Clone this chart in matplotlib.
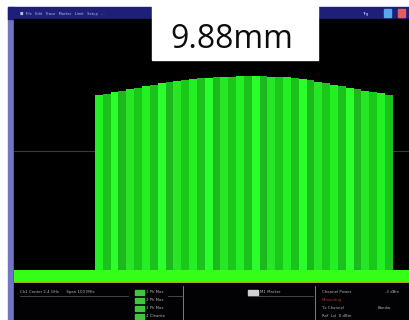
import matplotlib.pyplot as plt
import matplotlib.patches as mpatches
import numpy as np

# Spectrum data (dBm) over a 0-100 MHz display span
span_start, span_stop = 0.0, 100.0
band_start, band_stop = 20.5, 95.9
levels = [-28.9, -28.4, -27.8, -27.2, -26.6, -26.0, -25.4, -24.9, -24.4, -23.9,
          -23.5, -23.1, -22.8, -22.5, -22.3, -22.1, -21.9, -21.8, -21.7, -21.7,
          -21.6, -21.7, -21.8, -21.9, -22.1, -22.4, -22.8, -23.2, -23.7, -24.3,
          -24.9, -25.5, -26.1, -26.6, -27.1, -27.6, -28.1, -28.7]
noise_floor = -95.2
ref_level, bottom_level = 0.0, -100.0
stripe_colors = ['#22f022', '#1cc21c', '#2bff2b', '#1db81d', '#26e626', '#19c819']
label = '9.88mm'

W, H = 409, 320
fig = plt.figure(figsize=(W / 100, H / 100), dpi=100)
fig.patch.set_facecolor('white')


def px_axes(x0, y0, x1, y1, **kw):
    return fig.add_axes([x0 / W, 1 - y1 / H, (x1 - x0) / W, (y1 - y0) / H], **kw)


def overlay():
    a = px_axes(0, 0, W, H)
    a.set_xlim(0, W)
    a.set_ylim(H, 0)
    a.axis('off')
    return a


# instrument frame: side strip, title bar, status panel
frame = overlay()
frame.add_patch(mpatches.Rectangle((8, 7), 6, H - 7, color='#7474c4'))
frame.add_patch(mpatches.Rectangle((8, 7), W - 8, 12, color='#1d1f78'))
frame.add_patch(mpatches.Rectangle((14, 19), W - 14, H - 19, color='#020204'))
frame.text(20, 13.5, '\u25a0  File   Edit   Trace   Marker   Limit   Setup   ...',
           fontsize=2.6, color='#b8bce0', va='center')
frame.text(362, 13.5, 'Trg', fontsize=3.2, color='#c8c8f0', va='center')
frame.add_patch(mpatches.Rectangle((384, 9), 7, 8, color='#58a8f0'))
frame.add_patch(mpatches.Rectangle((398, 9), 7, 8, color='#e06060'))

# status panel text
txt = dict(fontsize=2.8, va='center', color='#b0b0b0')
frame.text(20, 292, 'Ch1 Center 2.4 GHz      Span 100 MHz', **txt)
frame.plot([20, 128], [296, 296], color='#606060', lw=0.5)
for i, s in enumerate(['1 Pk Max', '2 Pk Max', '3 Pk Max', '4 Clrwrite']):
    y = 292 + i * 8
    frame.add_patch(mpatches.Rectangle((135, y - 2.5), 9, 5, color='#3ec83e'))
    frame.text(146, y, s, **txt)
frame.plot([183, 183], [286, H], color='#909090', lw=0.6)
frame.plot([168, 183], [296, 296], color='#606060', lw=0.5)
frame.add_patch(mpatches.Rectangle((248, 289.5), 10, 5, color='#d0d0d0'))
frame.text(260, 292, 'M1 Marker', **txt)
frame.plot([248, 313], [296, 296], color='#606060', lw=0.5)
frame.plot([315, 315], [286, H], color='#909090', lw=0.6)
frame.text(322, 292, 'Channel Power', **txt)
frame.text(385, 292, '-3 dBm', **txt)
frame.text(322, 300, 'Measuring', fontsize=2.8, va='center', color='#b03030')
frame.text(322, 308, 'Tx Channel', **txt)
frame.text(378, 308, 'Bandw.', **txt)
frame.text(322, 316, 'Ref  Lvl  0 dBm', **txt)

# spectrum display
ax = px_axes(14, 19, W, 283)
ax.set_facecolor('black')
ax.set_xlim(span_start, span_stop)
ax.set_ylim(bottom_level, ref_level)
ax.set_xticks([])
ax.set_yticks([])
for sp in ax.spines.values():
    sp.set_visible(False)
ax.axhline((ref_level + bottom_level) / 2, color='#3a3a3a', lw=0.8, zorder=0)

edges = np.linspace(band_start, band_stop, len(levels) + 1)
heights = np.array(levels) - bottom_level
colors = [stripe_colors[i % len(stripe_colors)] for i in range(len(levels))]
ax.bar(edges[:-1], heights, width=np.diff(edges), bottom=bottom_level,
       align='edge', color=colors, edgecolor='none', zorder=2)

ax.fill_between([span_start, span_stop], bottom_level, noise_floor,
                color='#36ff16', lw=0, zorder=3)
ax.axhline(bottom_level + 0.5, color='#a6a82a', lw=1.0, zorder=4)

# annotation box on top of everything
top = overlay()
top.add_patch(mpatches.Rectangle((152, 0), 166, 60, color='white'))
top.text(232, 40, label, fontsize=23, family='Open Sans', color='#0c0c0c',
         ha='center', va='center')

fig.savefig('out.png', dpi=100)
